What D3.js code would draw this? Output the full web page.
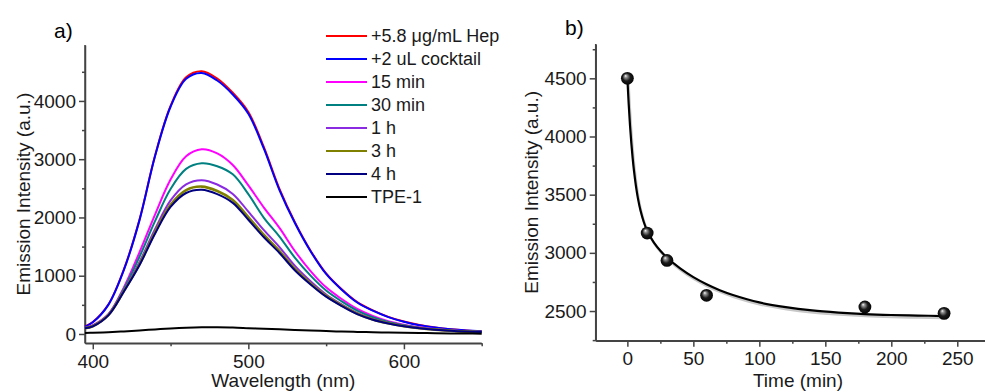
<!DOCTYPE html>
<html>
<head>
<meta charset="utf-8">
<title>Emission spectra and decay</title>
<script src="https://d3js.org/d3.v7.min.js"></script>
<style>
  body { margin: 0; background: #fff; }
  svg { font-family: Arial, "Liberation Sans", sans-serif; }
  .axis path, .axis line { stroke: #444; stroke-width: 1.5px; }
</style>
</head>
<body>
<svg id="chart" width="985" height="392"></svg>
<script>
// ---- panel a: emission spectra ----
var wavelengths = [395, 400, 410, 420, 430, 440, 450, 460, 470, 480, 490, 500, 510, 520,
                   530, 540, 550, 560, 570, 580, 590, 600, 610, 620, 630, 640, 650];

var seriesNames  = ["+5.8 μg/mL Hep", "+2 uL cocktail", "15 min", "30 min", "1 h", "3 h", "4 h", "TPE-1"];
var seriesColors = ["#ff0000", "#0000ff", "#ff00ff", "#008080", "#8a2be2", "#808000", "#000080", "#000000"];

var hep      = [128, 205, 505, 1110, 1960, 3060, 3915, 4405, 4510, 4385, 4140, 3810, 3205, 2490,
                1915, 1430, 1040, 768, 548, 405, 294, 213, 153, 112, 82, 61, 46];
var cocktail = [125, 200, 500, 1100, 1950, 3050, 3900, 4380, 4480, 4350, 4110, 3780, 3180, 2470,
                1900, 1420, 1030, 760, 540, 400, 290, 210, 150, 110, 80, 60, 45];
var min15    = [105, 150, 340, 800, 1400, 2050, 2650, 3050, 3170, 3100, 2900, 2550, 2170, 1820,
                1420, 1080, 800, 600, 430, 310, 220, 160, 115, 85, 62, 47, 36];
var min30    = [102, 143, 333, 776, 1324, 1936, 2488, 2833, 2930, 2880, 2740, 2400, 1994, 1672,
                1306, 1001, 745, 559, 399, 287, 206, 150, 109, 81, 59, 45, 35];
var h1       = [99, 135, 325, 747, 1232, 1798, 2292, 2569, 2640, 2566, 2404, 2100, 1781, 1492,
                1168, 905, 678, 508, 361, 260, 189, 139, 102, 76, 56, 42, 33];
var h3       = [97, 132, 322, 735, 1197, 1746, 2217, 2470, 2530, 2455, 2301, 2007, 1700, 1424,
                1116, 868, 653, 489, 347, 250, 183, 134, 99, 74, 55, 41, 32];
var h4       = [97, 130, 320, 730, 1180, 1720, 2180, 2420, 2475, 2400, 2250, 1960, 1660, 1390,
                1090, 850, 640, 480, 340, 245, 180, 132, 98, 73, 54, 41, 32];
var tpe1     = [18, 21, 30, 44, 60, 78, 95, 108, 115, 114, 110, 100, 90, 80,
                70, 60, 50, 42, 35, 30, 25, 21, 17, 13, 10, 7, 5];

var spectra = [hep, cocktail, min15, min30, h1, h3, h4, tpe1];

var xTicksA = [400, 500, 600];
var yTicksA = [0, 1000, 2000, 3000, 4000];

// ---- panel b: intensity vs time ----
var times       = [0, 15, 30, 60, 180, 240];
var intensities = [4500, 3170, 2935, 2635, 2535, 2480];

var fitTimes  = [0, 1, 2, 3, 4, 5, 6.5, 8, 10, 12.5, 15, 20, 25, 30, 40, 50, 60, 70, 80,
                 100, 120, 140, 160, 180, 200, 220, 240];
var fitValues = [4500, 4280, 4095, 3943, 3814, 3706, 3573, 3468, 3361, 3263, 3190, 3090, 3018, 2960,
                 2866, 2791, 2730, 2679, 2638, 2574, 2533, 2505, 2487, 2474, 2466, 2461, 2457];

var xTicksB = [0, 50, 100, 150, 200, 250];
var yTicksB = [2500, 3000, 3500, 4000, 4500];

var FS = "19px";
var svg = d3.select("#chart");

function drawAxes(x, y, xMajor, xMinor, yMajor, yMinor) {
  var y0 = y.range()[0], x0 = x.range()[0];
  // minor ticks
  svg.append("g").attr("class", "axis")
    .attr("transform", "translate(0," + y0 + ")")
    .call(d3.axisBottom(x).tickValues(xMinor).tickSize(3).tickSizeOuter(0).tickFormat(""));
  svg.append("g").attr("class", "axis")
    .attr("transform", "translate(" + x0 + ",0)")
    .call(d3.axisLeft(y).tickValues(yMinor).tickSize(3).tickSizeOuter(0).tickFormat(""));
  // major ticks
  var gx = svg.append("g").attr("class", "axis")
    .attr("transform", "translate(0," + y0 + ")")
    .call(d3.axisBottom(x).tickValues(xMajor).tickSize(6).tickSizeOuter(0)
      .tickPadding(5).tickFormat(d3.format("d")));
  var gy = svg.append("g").attr("class", "axis")
    .attr("transform", "translate(" + x0 + ",0)")
    .call(d3.axisLeft(y).tickValues(yMajor).tickSize(6).tickSizeOuter(0)
      .tickPadding(3).tickFormat(d3.format("d")));
  gx.select(".domain").attr("d", "M" + x.range()[0] + ",0H" + x.range()[1]);
  gy.select(".domain").attr("d", "M0," + y.range()[0] + "V" + y.range()[1]);
  [gx, gy].forEach(function(g) {
    g.attr("font-family", null).attr("font-size", null);
    g.selectAll("text").style("font-size", FS).style("fill", "#1a1a1a")
      .style("font-family", "Arial, 'Liberation Sans', sans-serif");
  });
}

function title(t) {
  return t.style("font-size", FS).style("fill", "#1a1a1a").attr("text-anchor", "middle");
}

// ---------- panel a ----------
var xA = d3.scaleLinear().domain([395, 650]).range([85, 481.7]);
var yA = d3.scaleLinear().domain([-160, 4960]).range([343.3, 45]);

drawAxes(xA, yA, xTicksA, [450, 550, 650], yTicksA, [500, 1500, 2500, 3500, 4500]);

var lineA = d3.line()
  .x(function(d, i) { return xA(wavelengths[i]); })
  .y(function(d) { return yA(d); })
  .curve(d3.curveCatmullRom);

spectra.forEach(function(s, i) {
  svg.append("path")
    .attr("d", lineA(s))
    .attr("fill", "none")
    .attr("stroke", seriesColors[i])
    .attr("stroke-width", i === 5 ? 2.6 : 2);
});

title(svg.append("text").attr("x", (85 + 481.7) / 2).attr("y", 387)).text("Wavelength (nm)");
title(svg.append("text")
  .attr("transform", "translate(30," + ((45 + 343.3) / 2) + ") rotate(-90)"))
  .text("Emission Intensity (a.u.)");
svg.append("text").attr("x", 54).attr("y", 38)
  .style("font-size", "21px").text("a)");

// legend
var legend = svg.append("g");
seriesNames.forEach(function(name, i) {
  var cy = 36 + i * 23;
  legend.append("line")
    .attr("x1", 326).attr("x2", 367).attr("y1", cy).attr("y2", cy)
    .attr("stroke", seriesColors[i]).attr("stroke-width", 2);
  legend.append("text")
    .attr("x", 371).attr("y", cy).attr("dy", "0.35em")
    .style("font-size", "18px").style("fill", "#1a1a1a").text(name);
});

// ---------- panel b ----------
var xB = d3.scaleLinear().domain([-24, 271]).range([595.7, 985]);
var yB = d3.scaleLinear().domain([2245, 4795]).range([340.7, 44]);

drawAxes(xB, yB, xTicksB, [25, 75, 125, 175, 225], yTicksB, [2250, 2750, 3250, 3750, 4250, 4750]);

var defs = svg.append("defs");
var grad = defs.append("radialGradient").attr("id", "ball")
  .attr("cx", "50%").attr("cy", "50%").attr("r", "55%")
  .attr("fx", "35%").attr("fy", "30%");
grad.append("stop").attr("offset", "0%").attr("stop-color", "#ffffff");
grad.append("stop").attr("offset", "18%").attr("stop-color", "#9a9a9a");
grad.append("stop").attr("offset", "55%").attr("stop-color", "#1a1a1a");
grad.append("stop").attr("offset", "100%").attr("stop-color", "#000000");

var lineB = d3.line()
  .x(function(d, i) { return xB(fitTimes[i]); })
  .y(function(d) { return yB(d); })
  .curve(d3.curveCatmullRom);

// soft shadow under the fit
svg.append("path")
  .attr("d", lineB(fitValues))
  .attr("transform", "translate(1,2)")
  .attr("fill", "none").attr("stroke", "#c8c8c8").attr("stroke-width", 2.5);
svg.append("path")
  .attr("d", lineB(fitValues))
  .attr("fill", "none").attr("stroke", "#000").attr("stroke-width", 2.2);

svg.selectAll(".pt").data(times).enter().append("circle")
  .attr("class", "pt")
  .attr("cx", function(d) { return xB(d); })
  .attr("cy", function(d, i) { return yB(intensities[i]); })
  .attr("r", 6.4)
  .attr("fill", "url(#ball)");

title(svg.append("text").attr("x", 798).attr("y", 387)).text("Time (min)");
title(svg.append("text")
  .attr("transform", "translate(538," + ((44 + 340.7) / 2) + ") rotate(-90)"))
  .text("Emission Intensity (a.u.)");
svg.append("text").attr("x", 565).attr("y", 35)
  .style("font-size", "21px").text("b)");
</script>
</body>
</html>
